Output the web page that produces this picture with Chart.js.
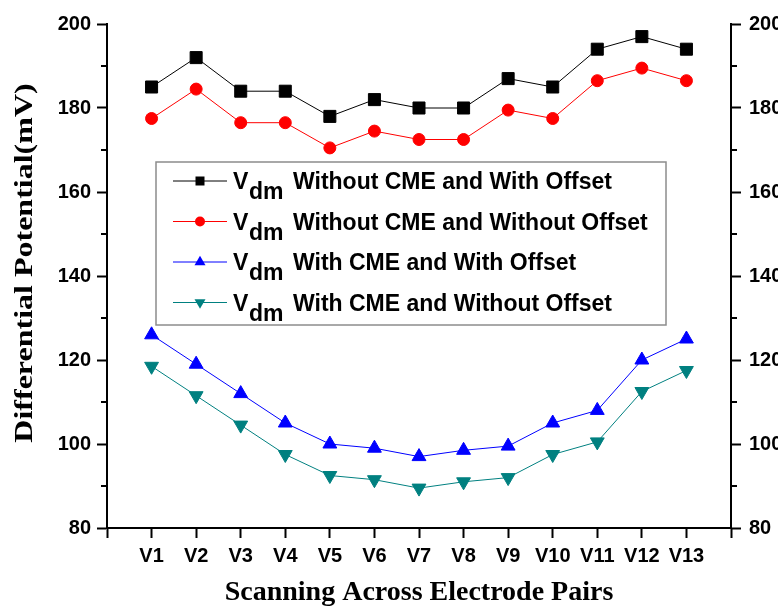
<!DOCTYPE html>
<html>
<head>
<meta charset="utf-8">
<script src="https://cdn.jsdelivr.net/npm/chart.js@4.4.0/dist/chart.umd.min.js"></script>
<style>
  body { margin: 0; background: #fff; }
  canvas { display: block; }
</style>
</head>
<body>
<canvas id="chart" width="778" height="610"></canvas>
<script>
const categories = ['V1', 'V2', 'V3', 'V4', 'V5', 'V6', 'V7', 'V8', 'V9', 'V10', 'V11', 'V12', 'V13'];
const withoutCmeWithOffset = [185, 192, 184, 184, 178, 182, 180, 180, 187, 185, 194, 197, 194];
const withoutCmeWithoutOffset = [177.5, 184.5, 176.5, 176.5, 170.5, 174.5, 172.5, 172.5, 179.5, 177.5, 186.5, 189.5, 186.5];
const withCmeWithOffset = [126, 119, 112, 105, 100, 99, 97, 98.5, 99.5, 105, 108, 120, 125];
const withCmeWithoutOffset = [118.5, 111.5, 104.5, 97.5, 92.5, 91.5, 89.5, 91, 92, 97.5, 100.5, 112.5, 117.5];
const yTicks = [80, 100, 120, 140, 160, 180, 200];
const legendLabels = [
  'Without CME and With Offset',
  'Without CME and Without Offset',
  'With CME and With Offset',
  'With CME and Without Offset'
];
const yTitle = 'Differential Potential(mV)';

function toPoints(values) {
  return values.map((v, i) => ({ x: i + 1, y: v }));
}

function series(values, color, style, radius, rotation) {
  return {
    data: toPoints(values),
    borderColor: color,
    backgroundColor: color,
    borderWidth: 1,
    pointStyle: style,
    pointRadius: radius,
    pointRotation: rotation || 0,
    pointBorderColor: color,
    pointBackgroundColor: color,
    pointBorderWidth: 1,
    tension: 0
  };
}

function drawMarker(ctx, style, x, y, size, color, rotation) {
  ctx.save();
  ctx.fillStyle = color;
  ctx.beginPath();
  if (style === 'rect') {
    ctx.rect(x - size / 2, y - size / 2, size, size);
  } else if (style === 'circle') {
    ctx.arc(x, y, size / 2, 0, Math.PI * 2);
  } else {
    const r = size / Math.sqrt(3);
    const flip = rotation === 180 ? -1 : 1;
    ctx.moveTo(x, y - r * flip);
    ctx.lineTo(x + size / 2, y + r / 2 * flip);
    ctx.lineTo(x - size / 2, y + r / 2 * flip);
    ctx.closePath();
  }
  ctx.fill();
  ctx.restore();
}

// legend box with subscripted V_dm, y title, minor ticks on both y axes
const extras = {
  id: 'extras',
  afterDraw(chart) {
    const ctx = chart.ctx;
    const left = chart.scales.y, right = chart.scales.y2;
    ctx.save();
    ctx.strokeStyle = '#000';
    ctx.lineWidth = 2;
    for (let v = 90; v < 200; v += 20) {
      const py = left.getPixelForValue(v);
      ctx.beginPath();
      ctx.moveTo(left.right - 6, py);
      ctx.lineTo(left.right, py);
      ctx.moveTo(right.left, py);
      ctx.lineTo(right.left + 6, py);
      ctx.stroke();
    }

    // y title, stretched along its length like the original
    ctx.save();
    ctx.translate(26, 263);
    ctx.rotate(-Math.PI / 2);
    ctx.scale(1.28, 1);
    ctx.fillStyle = '#000';
    ctx.font = 'bold 25px "Liberation Serif", "Times New Roman", serif';
    ctx.textAlign = 'center';
    ctx.textBaseline = 'middle';
    ctx.fillText(yTitle, 0, 0);
    ctx.restore();

    ctx.strokeStyle = '#8c8c8c';
    ctx.lineWidth = 1.5;
    ctx.strokeRect(156, 162, 510, 163);

    const shapes = [['rect', 0, 9], ['circle', 0, 10], ['triangle', 0, 11], ['triangle', 180, 11]];
    chart.data.datasets.forEach((ds, i) => {
      const rowY = 181 + i * 40.5;
      ctx.strokeStyle = ds.borderColor;
      ctx.lineWidth = 1;
      ctx.beginPath();
      ctx.moveTo(173, rowY);
      ctx.lineTo(227, rowY);
      ctx.stroke();
      drawMarker(ctx, shapes[i][0], 200, rowY, shapes[i][2], ds.borderColor, shapes[i][1]);
      ctx.fillStyle = '#000';
      ctx.textBaseline = 'alphabetic';
      ctx.textAlign = 'left';
      ctx.font = 'bold 23px "Liberation Sans", Arial, sans-serif';
      ctx.fillText('V', 233, rowY + 8);
      ctx.fillText('dm', 249, rowY + 18);
      ctx.fillText(legendLabels[i], 293, rowY + 8);
    });
    ctx.restore();
  }
};

const tickFont = { family: '"Liberation Sans", Arial, sans-serif', size: 20, weight: 'bold' };

function yAxis(position, width, pad) {
  return {
    type: 'linear',
    position: position,
    min: 80,
    max: 200,
    afterFit(scale) { scale.width = width; },
    afterBuildTicks(scale) { scale.ticks = yTicks.map(v => ({ value: v })); },
    border: { display: true, color: '#000', width: 2 },
    grid: { drawOnChartArea: false, drawTicks: true, tickLength: 10, tickColor: '#000', tickWidth: 2 },
    ticks: { color: '#000', font: tickFont, padding: pad }
  };
}

new Chart(document.getElementById('chart'), {
  type: 'line',
  data: {
    datasets: [
      series(withoutCmeWithOffset, '#000000', 'rect', 8.5),
      series(withoutCmeWithoutOffset, '#ff0000', 'circle', 6),
      series(withCmeWithOffset, '#0000ff', 'triangle', 8),
      series(withCmeWithoutOffset, '#008080', 'triangle', 8, 180)
    ]
  },
  options: {
    responsive: false,
    animation: false,
    layout: { padding: { top: 24, left: 0, right: 0, bottom: 0 } },
    plugins: { legend: { display: false }, tooltip: { enabled: false } },
    scales: {
      x: {
        type: 'linear',
        min: 0,
        max: 14,
        afterFit(scale) { scale.height = 82; },
        border: { display: true, color: '#000', width: 2 },
        grid: { drawOnChartArea: false, drawTicks: true, tickLength: 10, tickColor: '#000', tickWidth: 2 },
        ticks: {
          stepSize: 1,
          autoSkip: false,
          maxRotation: 0,
          color: '#000',
          font: tickFont,
          padding: 6,
          callback: v => categories[v - 1] || ''
        },
        title: {
          display: true,
          text: 'Scanning Across Electrode Pairs',
          color: '#000',
          font: { family: '"Liberation Serif", "Times New Roman", serif', size: 28, weight: 'bold' },
          padding: { top: 0, bottom: 0 }
        }
      },
      y: yAxis('left', 107, 6),
      y2: yAxis('right', 47, 8)
    }
  },
  plugins: [extras]
});
</script>
</body>
</html>
